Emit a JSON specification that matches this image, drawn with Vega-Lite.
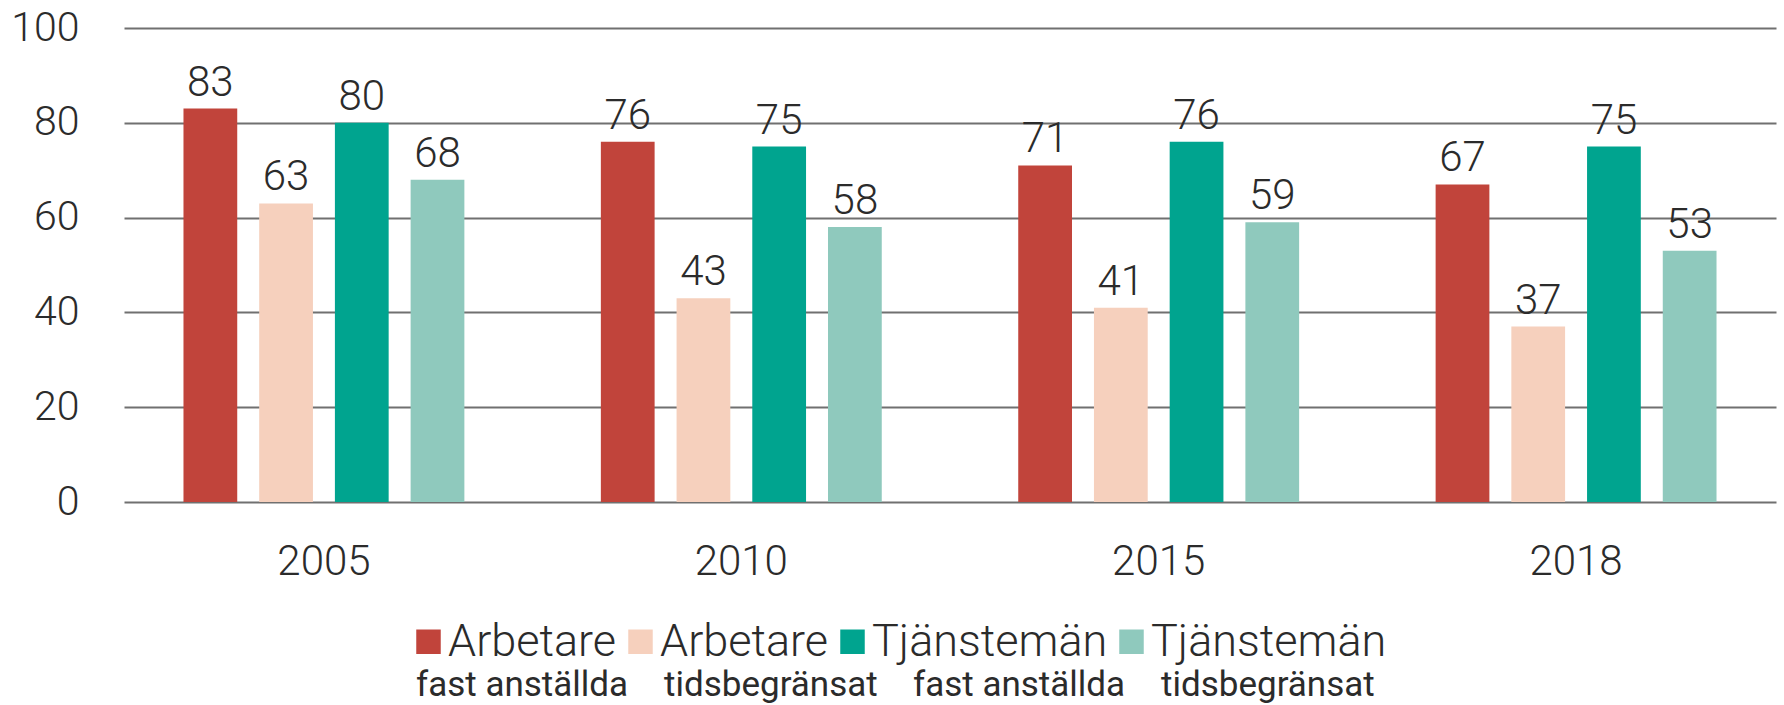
{
  "$schema": "https://vega.github.io/schema/vega-lite/v6.json",
  "width": 1652,
  "height": 474,
  "autosize": {"type": "none"},
  "padding": {"left": 124, "top": 28, "right": 8, "bottom": 203},
  "background": "white",
  "data": {
    "values": [
      {"år": "2005", "serie": "Arbetare fast anställda", "under": "fast anställda (Arbetare)", "andel": 83},
      {"år": "2005", "serie": "Arbetare tidsbegränsat", "under": "tidsbegränsat (Arbetare)", "andel": 63},
      {"år": "2005", "serie": "Tjänstemän fast anställda", "under": "fast anställda (Tjänstemän)", "andel": 80},
      {"år": "2005", "serie": "Tjänstemän tidsbegränsat", "under": "tidsbegränsat (Tjänstemän)", "andel": 68},
      {"år": "2010", "serie": "Arbetare fast anställda", "under": "fast anställda (Arbetare)", "andel": 76},
      {"år": "2010", "serie": "Arbetare tidsbegränsat", "under": "tidsbegränsat (Arbetare)", "andel": 43},
      {"år": "2010", "serie": "Tjänstemän fast anställda", "under": "fast anställda (Tjänstemän)", "andel": 75},
      {"år": "2010", "serie": "Tjänstemän tidsbegränsat", "under": "tidsbegränsat (Tjänstemän)", "andel": 58},
      {"år": "2015", "serie": "Arbetare fast anställda", "under": "fast anställda (Arbetare)", "andel": 71},
      {"år": "2015", "serie": "Arbetare tidsbegränsat", "under": "tidsbegränsat (Arbetare)", "andel": 41},
      {"år": "2015", "serie": "Tjänstemän fast anställda", "under": "fast anställda (Tjänstemän)", "andel": 76},
      {"år": "2015", "serie": "Tjänstemän tidsbegränsat", "under": "tidsbegränsat (Tjänstemän)", "andel": 59},
      {"år": "2018", "serie": "Arbetare fast anställda", "under": "fast anställda (Arbetare)", "andel": 67},
      {"år": "2018", "serie": "Arbetare tidsbegränsat", "under": "tidsbegränsat (Arbetare)", "andel": 37},
      {"år": "2018", "serie": "Tjänstemän fast anställda", "under": "fast anställda (Tjänstemän)", "andel": 75},
      {"år": "2018", "serie": "Tjänstemän tidsbegränsat", "under": "tidsbegränsat (Tjänstemän)", "andel": 53}
    ]
  },
  "encoding": {
    "x": {
      "field": "år",
      "type": "nominal",
      "scale": {"paddingInner": 0.327, "paddingOuter": 0.1425},
      "axis": {
        "title": null,
        "domain": false,
        "ticks": false,
        "grid": false,
        "labelAngle": 0,
        "labelFont": "Roboto",
        "labelFontWeight": 300,
        "labelFontSize": 42,
        "labelColor": "#2b2b2b",
        "labelPadding": 39
      }
    },
    "xOffset": {
      "field": "serie",
      "type": "nominal",
      "scale": {
        "domain": ["Arbetare fast anställda", "Arbetare tidsbegränsat", "Tjänstemän fast anställda", "Tjänstemän tidsbegränsat"],
        "paddingInner": 0.29,
        "paddingOuter": 0
      }
    },
    "y": {
      "field": "andel",
      "type": "quantitative",
      "scale": {"domain": [0, 100]},
      "axis": {
        "title": null,
        "domain": false,
        "ticks": false,
        "values": [0, 20, 40, 60, 80, 100],
        "grid": true,
        "gridColor": "#707070",
        "gridWidth": 2,
        "labelFont": "Roboto",
        "labelFontWeight": 300,
        "labelFontSize": 41,
        "labelColor": "#2b2b2b",
        "labelPadding": 45
      }
    }
  },
  "layer": [
    {
      "mark": {"type": "bar"},
      "encoding": {
        "color": {
          "field": "serie",
          "type": "nominal",
          "scale": {
            "domain": ["Arbetare fast anställda", "Arbetare tidsbegränsat", "Tjänstemän fast anställda", "Tjänstemän tidsbegränsat"],
            "range": ["#C1443B", "#F6D0BD", "#00A48F", "#8FC9BD"]
          },
          "legend": {
            "title": null,
            "orient": "none",
            "legendX": 282,
            "legendY": 591,
            "direction": "horizontal",
            "symbolType": "square",
            "symbolSize": 600,
            "symbolStrokeWidth": 0,
            "labelExpr": "split(datum.label, ' ')[0]",
            "labelFont": "Roboto",
            "labelFontWeight": 300,
            "labelFontSize": 45,
            "labelColor": "#2b2b2b",
            "labelOffset": -3,
            "labelLimit": 400,
            "columnPadding": 1
          }
        },
        "opacity": {
          "field": "under",
          "type": "nominal",
          "scale": {
            "domain": ["fast anställda (Arbetare)", "tidsbegränsat (Arbetare)", "fast anställda (Tjänstemän)", "tidsbegränsat (Tjänstemän)"],
            "range": [1, 1, 1, 1]
          },
          "legend": {
            "title": null,
            "orient": "none",
            "legendX": 257,
            "legendY": 639,
            "direction": "horizontal",
            "symbolSize": 0,
            "symbolOpacity": 0,
            "labelExpr": "split(datum.label, ' (')[0]",
            "labelFont": "Liberation Sans Narrow, Roboto, sans-serif",
            "labelFontSize": 35,
            "labelColor": "#2b2b2b",
            "labelOffset": 0,
            "labelLimit": 400,
            "columnPadding": -7
          }
        }
      }
    },
    {
      "mark": {
        "type": "text",
        "baseline": "alphabetic",
        "dy": -13,
        "font": "Roboto",
        "fontWeight": 300,
        "fontSize": 42,
        "color": "#2b2b2b"
      },
      "encoding": {
        "text": {"field": "andel", "type": "quantitative"}
      }
    }
  ],
  "config": {
    "view": {"stroke": null}
  }
}
